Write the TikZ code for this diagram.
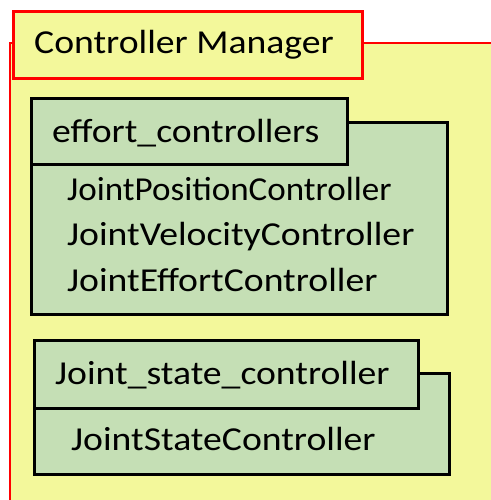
\documentclass[tikz,border=0pt]{standalone}
\usepackage{graphicx}
\usepackage{fontspec}
\setmainfont{Carlito}
\newfontfamily\wideface[FakeStretch=1.125]{Carlito}
\definecolor{cmyellow}{HTML}{F3F89B}
\definecolor{cmgreen}{HTML}{C5DFB5}
\definecolor{cmred}{HTML}{FF0000}
\begin{document}
\begin{tikzpicture}[x=1pt,y=-1pt,
  redbox/.style={draw=cmred,fill=cmyellow,line width=2.8pt},
  greenbox/.style={draw=black,fill=cmgreen,line width=2.6pt},
  lbl/.style={font=\wideface\fontsize{33.5}{38}\selectfont,inner sep=0pt,anchor=base west}]
\useasboundingbox (0,0) rectangle (490,500);
\fill[white] (0,0) rectangle (490,500);
% outer manager
\draw[redbox] (10,43) rectangle (495,505);
\node[redbox,anchor=north west,minimum width=349pt,minimum height=67pt,inner sep=0pt] (mgrtab) at (12,10) {};
\node[lbl] (mgrlbl) at (34,54) {Controller Manager};
% effort controllers
\node[greenbox,anchor=north west,minimum width=416pt,minimum height=192pt,inner sep=0pt] (effbody) at (30,121) {};
\node[greenbox,anchor=north west,minimum width=316pt,minimum height=66pt,inner sep=0pt] (efftab) at (30,97) {};
\node[lbl] (efflbl) at (52,142) {effort\_controllers};
\node[lbl] (pos) at (67,200) {\scalebox{0.93}[1]{JointPositionController}};
\node[lbl] (vel) at (67,245.5) {JointVelocityController};
\node[lbl] (eff) at (67,291.5) {JointEffortController};
% joint state controller
\node[greenbox,anchor=north west,minimum width=415pt,minimum height=101pt,inner sep=0pt] (jsbody) at (33,372) {};
\node[greenbox,anchor=north west,minimum width=384pt,minimum height=68pt,inner sep=0pt] (jstab) at (33,339) {};
\node[lbl] (jslbl) at (55,384) {Joint\_state\_controller};
\node[lbl] (jsc) at (71,450) {JointStateController};
\end{tikzpicture}
\end{document}
